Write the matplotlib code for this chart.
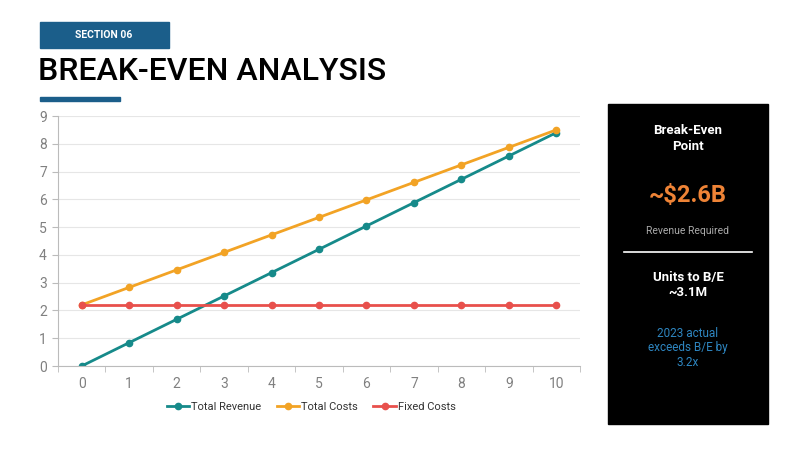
import numpy as np
import matplotlib
matplotlib.use('Agg')
import matplotlib.pyplot as plt
from matplotlib.patches import Rectangle

# data
units = [0, 1, 2, 3, 4, 5, 6, 7, 8, 9, 10]
total_revenue = [0, 0.84, 1.68, 2.52, 3.36, 4.2, 5.04, 5.88, 6.72, 7.56, 8.4]
total_costs = [2.2, 2.83, 3.46, 4.09, 4.72, 5.35, 5.98, 6.61, 7.24, 7.87, 8.5]
fixed_costs = [2.2] * 11
series_names = ['Total Revenue', 'Total Costs', 'Fixed Costs']
series_colors = ['#168A8A', '#F2A325', '#E8504C']

plt.rcParams['font.family'] = ['Roboto', 'DejaVu Sans']

W, H = 800, 450
fig = plt.figure(figsize=(8, 4.5), dpi=100)
fig.patch.set_facecolor('white')

# header
fig.patches.append(Rectangle((40 / W, 1 - 48 / H), 129 / W, 26 / H,
                             transform=fig.transFigure, color='#1B5E8A'))
fig.text(104 / W, 1 - 35 / H, 'SECTION 06', color='white', fontsize=7.5,
         fontweight='bold', ha='center', va='center')
fig.text(38 / W, 1 - 72 / H, 'BREAK-EVEN ANALYSIS', color='black', fontsize=23,
         fontweight='medium', ha='left', va='center')
fig.patches.append(Rectangle((40 / W, 1 - 101 / H), 80 / W, 4 / H,
                             transform=fig.transFigure, color='#1B5E8A'))

# chart
ax = fig.add_axes([58 / W, 1 - 366 / H, 522 / W, 250 / H])
for vals, name, col in zip([total_revenue, total_costs, fixed_costs], series_names, series_colors):
    ax.plot(units, vals, color=col, lw=2, marker='o', ms=4.5, label=name)

ax.set_xlim(-0.5, 10.5)
ax.set_ylim(0, 9)
ax.set_yticks(range(0, 10))
ax.set_xticks(units)
ax.set_xticks(np.arange(-0.5, 10.6, 1), minor=True)
ax.tick_params(axis='x', which='major', length=0, pad=8, labelsize=10, labelcolor='#808080')
ax.tick_params(axis='x', which='minor', length=4, color='#BBBBBB', direction='out')
ax.tick_params(axis='y', length=4, color='#BBBBBB', labelsize=10, labelcolor='#808080', pad=4)
ax.grid(axis='y', color='#E6E6E6', lw=0.8)
ax.set_axisbelow(True)
for s in ['top', 'right']:
    ax.spines[s].set_visible(False)
ax.spines['left'].set_color('#BBBBBB')
ax.spines['bottom'].set_color('#BBBBBB')

ax.legend(loc='center', bbox_to_anchor=(0.485, -0.165), ncol=3, frameon=False,
          fontsize=8, handlelength=2.0, handletextpad=0.2, columnspacing=1.4,
          labelcolor='#333333')

# side panel
fig.patches.append(Rectangle((608 / W, 1 - 424 / H), 160 / W, 320 / H,
                             transform=fig.transFigure, color='black'))
cx = 688 / W
fig.text(cx, 1 - 139 / H, 'Break-Even\nPoint', color='white', fontsize=9.5,
         fontweight='bold', ha='center', va='center', linespacing=1.3)
fig.text(cx, 1 - 196 / H, '~$2.6B', color='#EE8336', fontsize=17,
         fontweight='bold', ha='center', va='center')
fig.text(cx, 1 - 231 / H, 'Revenue Required', color='#AAAAAA', fontsize=7.5,
         ha='center', va='center')
fig.add_artist(plt.Line2D([624 / W, 752 / W], [1 - 252 / H, 1 - 252 / H],
                          transform=fig.transFigure, color='white', lw=1.2))
fig.text(cx, 1 - 285 / H, 'Units to B/E\n~3.1M', color='white', fontsize=9.5,
         fontweight='bold', ha='center', va='center', linespacing=1.3)
fig.text(cx, 1 - 348 / H, '2023 actual\nexceeds B/E by\n3.2x', color='#2E86C1',
         fontsize=8.5, ha='center', va='center', linespacing=1.15)

fig.savefig('out.png', dpi=100)
